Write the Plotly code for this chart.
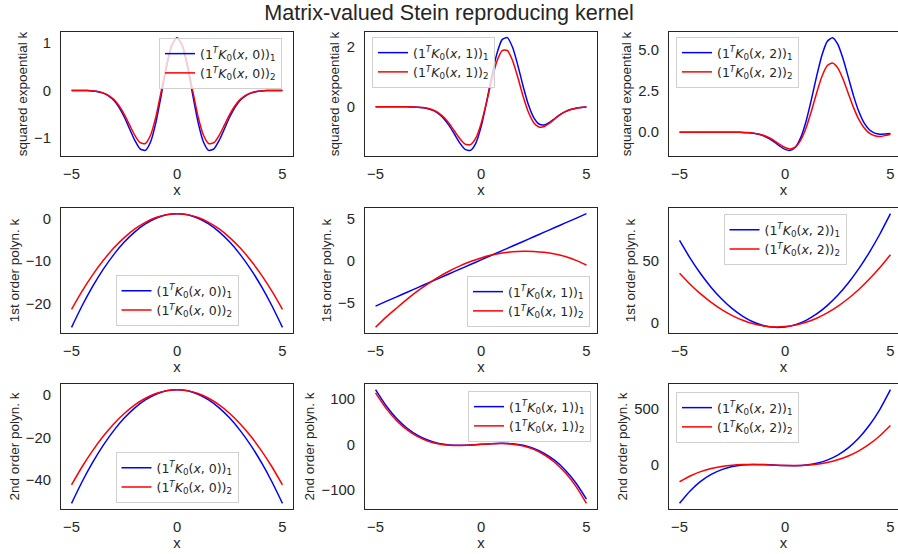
import plotly.graph_objects as go

# ---------------- data ----------------
x_fine = [i / 4 for i in range(-20, 21)]      # -5 .. 5 step 0.25
x_coarse = [i / 2 for i in range(-10, 11)]    # -5 .. 5 step 0.5

# row 1: squared exponential kernel
se0_1 = [0.0, -0.001, -0.002, -0.004, -0.012, -0.027, -0.058, -0.115, -0.211, -0.361, -0.565,
         -0.814, -1.061, -1.242, -1.273, -1.090, -0.679, -0.106, 0.494, 0.950, 1.12,
         0.950, 0.494, -0.106, -0.679, -1.090, -1.273, -1.242, -1.061, -0.814, -0.565,
         -0.361, -0.211, -0.115, -0.058, -0.027, -0.012, -0.004, -0.002, -0.001, 0.0]
se0_2 = [0.0, -0.001, -0.002, -0.004, -0.011, -0.025, -0.053, -0.104, -0.191, -0.327, -0.510,
         -0.733, -0.953, -1.110, -1.127, -0.947, -0.558, -0.021, 0.538, 0.962, 1.12,
         0.962, 0.538, -0.021, -0.558, -0.947, -1.127, -1.110, -0.953, -0.733, -0.510,
         -0.327, -0.191, -0.104, -0.053, -0.025, -0.011, -0.004, -0.002, -0.001, 0.0]
se1_1 = [0.0, 0.0, 0.0, 0.0, 0.0, -0.001, -0.002, -0.005, -0.013, -0.029, -0.064,
         -0.128, -0.236, -0.405, -0.639, -0.925, -1.212, -1.423, -1.454, -1.218, -0.679,
         0.106, 0.988, 1.764, 2.24, 2.307, 1.977, 1.374, 0.679, 0.064, -0.364,
         -0.575, -0.606, -0.524, -0.393, -0.265, -0.162, -0.091, -0.047, -0.022, -0.010]
se1_2 = [0.0, 0.0, 0.0, 0.0, 0.0, -0.001, -0.002, -0.004, -0.012, -0.026, -0.057,
         -0.114, -0.210, -0.360, -0.566, -0.817, -1.066, -1.246, -1.264, -1.048, -0.570,
         0.114, 0.868, 1.512, 1.877, 1.878, 1.534, 0.968, 0.344, -0.185, -0.531,
         -0.675, -0.658, -0.547, -0.401, -0.265, -0.160, -0.090, -0.046, -0.021, -0.010]
se2_1 = [0.0, 0.0, 0.0, 0.0, 0.0, 0.0, 0.0, 0.0, 0.0, 0.0, -0.002,
         -0.005, -0.013, -0.030, -0.064, -0.127, -0.232, -0.392, -0.604, -0.843, -1.042,
         -1.100, -0.893, -0.315, 0.667, 1.972, 3.398, 4.664, 5.5, 5.730, 5.339,
         4.463, 3.336, 2.203, 1.250, 0.565, 0.149, -0.055, -0.121, -0.116, -0.085]
se2_2 = [0.0, 0.0, 0.0, 0.0, 0.0, 0.0, 0.0, 0.0, 0.0, 0.0, -0.001,
         -0.004, -0.011, -0.025, -0.055, -0.108, -0.199, -0.337, -0.52, -0.74, -0.928,
         -1.01, -0.89, -0.47, 0.27, 1.275, 2.38, 3.37, 4.02, 4.20, 3.90,
         3.22, 2.35, 1.49, 0.78, 0.27, -0.06, -0.22, -0.26, -0.20, -0.12]

# row 2: 1st order polynomial kernel
p1_0_1 = [-25.55, -20.47, -15.92, -11.91, -8.43, -5.49, -3.08, -1.21, 0.13, 0.93, 1.2,
          0.93, 0.13, -1.21, -3.08, -5.49, -8.43, -11.91, -15.92, -20.47, -25.55]
p1_0_2 = [-21.3, -17.03, -13.2, -9.83, -6.9, -4.43, -2.4, -0.83, 0.3, 0.98, 1.2,
          0.98, 0.3, -0.83, -2.4, -4.43, -6.9, -9.83, -13.2, -17.03, -21.3]
p1_1_1 = [-5.34, -4.79, -4.25, -3.70, -3.16, -2.61, -2.06, -1.52, -0.97, -0.43, 0.12,
          0.67, 1.21, 1.76, 2.30, 2.85, 3.40, 3.94, 4.49, 5.03, 5.58]
p1_1_2 = [-7.85, -6.65, -5.57, -4.515, -3.55, -2.675, -1.89, -1.195, -0.59, -0.075, 0.35,
          0.685, 0.93, 1.085, 1.15, 1.125, 1.01, 0.805, 0.51, 0.06, -0.48]
p1_2_1 = [66.4, 52.18, 39.58, 28.585, 19.2, 11.425, 5.26, 0.705, -2.24, -3.575, -3.3,
          -1.415, 2.08, 7.185, 13.9, 22.225, 32.16, 43.705, 56.86, 71.625, 88.0]
p1_2_2 = [40.05, 31.2, 23.36, 16.53, 10.71, 5.9, 2.1, -0.69, -2.47, -3.24, -3.0,
          -1.75, 0.51, 3.78, 8.06, 13.35, 19.65, 26.96, 35.28, 44.61, 54.95]

# row 3: 2nd order polynomial kernel
p2_0_1 = [-51.15, -40.94, -31.8, -23.74, -16.75, -10.84, -6.0, -2.24, 0.45, 2.06, 2.6,
          2.06, 0.45, -2.24, -6.0, -10.84, -16.75, -23.74, -31.8, -40.94, -51.15]
p2_0_2 = [-42.4, -33.85, -26.2, -19.45, -13.6, -8.65, -4.6, -1.45, 0.8, 2.15, 2.6,
          2.15, 0.8, -1.45, -4.6, -8.65, -13.6, -19.45, -26.2, -33.85, -42.4]
p2_1_1 = [121.0, 85.39, 57.2, 35.61, 19.8, 8.94, 2.2, -1.24, -2.2, -1.51, 0.0,
          1.51, 2.2, 1.24, -2.2, -8.94, -19.8, -35.61, -57.2, -85.39, -121.0]
p2_1_2 = [114.0, 79.62, 52.56, 32.0, 17.1, 7.03, 0.96, -1.95, -2.52, -1.59, 0.0,
          1.43, 1.86, 0.46, -3.6, -11.15, -23.04, -40.08, -63.12, -92.98, -130.5]
p2_2_1 = [-341.9, -231.74, -147.2, -85.06, -42.1, -15.09, -0.8, 3.99, 2.5, -2.04, -6.4,
          -7.36, -1.7, 13.81, 42.4, 87.29, 151.7, 238.86, 352.0, 494.34, 669.1]
p2_2_2 = [-150.0, -98.78, -60.04, -32.16, -13.52, -2.5, 2.52, 3.16, 1.04, -2.22, -5.0,
          -5.68, -2.64, 5.74, 21.08, 45.0, 79.12, 125.06, 184.44, 258.88, 350.0]

row_names = ["squared expoential k", "1st order polyn. k", "2nd order polyn. k"]
x_ticks = [-5, 0, 5]
y_ticks = [
    [[-1, 0, 1], [0, 2], [0.0, 2.5, 5.0]],
    [[-20, -10, 0], [-5, 0, 5], [0, 50]],
    [[-40, -20, 0], [-100, 0, 100], [0, 500]],
]
y_ticktext = [
    [None, None, ["0.0", "2.5", "5.0"]],
    [None, None, None],
    [None, None, None],
]
series = [
    [(x_fine, se0_1, se0_2), (x_fine, se1_1, se1_2), (x_fine, se2_1, se2_2)],
    [(x_coarse, p1_0_1, p1_0_2), (x_coarse, p1_1_1, p1_1_2), (x_coarse, p1_2_1, p1_2_2)],
    [(x_coarse, p2_0_1, p2_0_2), (x_coarse, p2_1_1, p2_1_2), (x_coarse, p2_2_1, p2_2_2)],
]
second_args = ["0", "1", "2"]

# ---------------- layout ----------------
W, H = 898, 554
col_px = [(61, 293), (365, 597), (669, 901)]
row_px = [(32, 156), (208, 333), (384, 509)]
# legend anchor (px x, px y, xanchor, yanchor)
legend_pos = [
    [(282, 38, "right", "top"), (372, 37, "left", "top"), (676, 37, "left", "top")],
    [(177, 326, "center", "bottom"), (590, 327, "right", "bottom"), (785, 214, "center", "top")],
    [(177, 503, "center", "bottom"), (591, 391, "right", "top"), (676, 392, "left", "top")],
]

TXT = "#262626"
FONT = "Liberation Sans, Arial, sans-serif"

fig = go.Figure()
layout = dict(
    width=W, height=H, margin=dict(l=0, r=0, t=0, b=0, autoexpand=False),
    plot_bgcolor="white", paper_bgcolor="white",
    font=dict(family=FONT, color=TXT),
    title=dict(text="Matrix-valued Stein reproducing kernel", x=0.5, xanchor="center",
               y=1 - 12 / H, yanchor="middle", xref="paper", yref="container",
               font=dict(size=21.6, color=TXT, family=FONT)),
)

for r in range(3):
    for c in range(3):
        k = r * 3 + c + 1
        xs, b, rd = series[r][c]
        xa = "x" if k == 1 else f"x{k}"
        ya = "y" if k == 1 else f"y{k}"
        lg = "legend" if k == 1 else f"legend{k}"
        arg = second_args[c]
        for comp, yv, col in (("1", b, "#0000ff"), ("2", rd, "#ff0000")):
            name = (f"(1<sup><i>T</i></sup><i>K</i><sub>0</sub>(<i>x</i>, {arg}))<sub>{comp}</sub>")
            fig.add_trace(go.Scatter(
                x=xs, y=yv, mode="lines", name=name,
                line=dict(color=col, width=1.5, shape="spline", smoothing=0.6),
                xaxis=xa, yaxis=ya, legend=lg, showlegend=True,
            ))
        x0, x1 = col_px[c]
        y0, y1 = row_px[r]
        dom_x = [x0 / W, min(x1, W) / W]
        xr_right = -5.5 + 11 * (min(x1, W) - x0) / (x1 - x0)
        lo = min(min(b), min(rd))
        hi = max(max(b), max(rd))
        pad = 0.05 * (hi - lo)
        xkey = "xaxis" if k == 1 else f"xaxis{k}"
        ykey = "yaxis" if k == 1 else f"yaxis{k}"
        layout[xkey] = dict(
            domain=dom_x, anchor=ya, range=[-5.5, xr_right], automargin=False,
            showline=True, linecolor=TXT, linewidth=1.25, mirror=True,
            showgrid=False, zeroline=False, ticks="",
            tickvals=x_ticks, tickfont=dict(size=14.8, color=TXT, family=FONT),
            ticklabelstandoff=4,
            title=dict(text="x", font=dict(size=14.8, color=TXT, family=FONT), standoff=0),
        )
        ydict = dict(
            domain=[1 - y1 / H, 1 - y0 / H], anchor=xa, range=[lo - pad, hi + pad],
            automargin=False,
            showline=True, linecolor=TXT, linewidth=1.25, mirror=(c < 2),
            showgrid=False, zeroline=False, ticks="",
            tickvals=y_ticks[r][c], tickfont=dict(size=14.8, color=TXT, family=FONT),
            ticklabelstandoff=6,
            title=dict(text=row_names[r], font=dict(size=13.5, color=TXT, family=FONT), standoff=3),
        )
        if y_ticktext[r][c] is not None:
            ydict["ticktext"] = y_ticktext[r][c]
        layout[ykey] = ydict
        px_, py_, xan, yan = legend_pos[r][c]
        layout[lg] = dict(
            x=px_ / W, y=1 - py_ / H, xanchor=xan, yanchor=yan,
            xref="paper", yref="paper",
            bgcolor="rgba(255,255,255,0.8)", bordercolor="#d0d0d0", borderwidth=1,
            font=dict(size=12.5, color=TXT, family="DejaVu Sans, sans-serif"),
            itemwidth=30, tracegroupgap=0,
        )

fig.update_layout(**layout)
fig.write_html("out.html", config={"displayModeBar": False},
               post_script="document.body.style.margin='0px';document.body.style.overflow='hidden';")
